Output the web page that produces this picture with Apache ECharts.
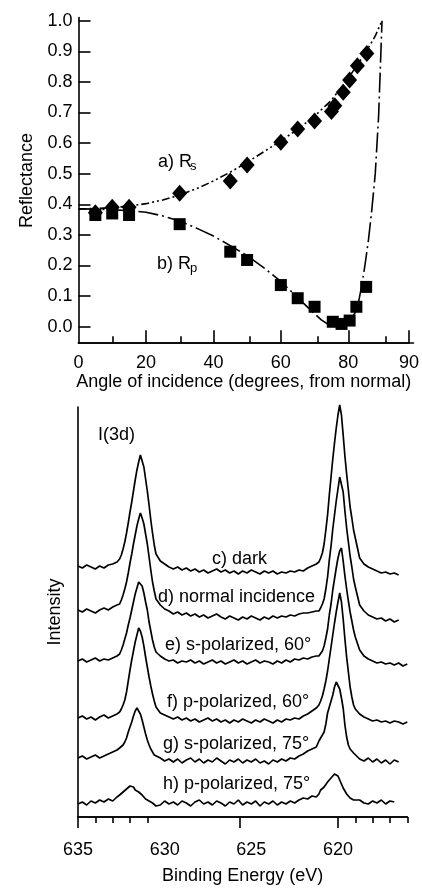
<!DOCTYPE html>
<html><head><meta charset="utf-8">
<script src="https://cdn.jsdelivr.net/npm/echarts@6/dist/echarts.min.js"></script>
<style>html,body{margin:0;padding:0;background:#fff}#c{width:422px;height:888px}</style>
</head><body><div id="c"></div><script>
// ---------- Top panel: reflectance vs angle ----------
const rsAngle = [5, 10, 15, 30, 45, 50, 60, 65, 70, 75, 76, 78.5, 80.4, 82.7, 85.5];
const rsValue = [0.372, 0.39, 0.39, 0.436, 0.476, 0.528, 0.603, 0.646, 0.672, 0.703, 0.722, 0.766, 0.806, 0.853, 0.893];
const rpAngle = [5, 10, 15, 30, 45, 50, 60, 65, 70, 75.4, 78, 80.4, 82.4, 85.3];
const rpValue = [0.365, 0.37, 0.365, 0.335, 0.245, 0.218, 0.136, 0.093, 0.065, 0.016, 0.009, 0.02, 0.065, 0.13];
const rsCurveAngle = [0, 5, 10, 15, 20, 25, 30, 35, 40, 45, 50, 55, 60, 65, 70, 75, 80, 85, 88, 90];
const rsCurveValue = [0.385, 0.386, 0.389, 0.394, 0.402, 0.414, 0.43, 0.451, 0.476, 0.505, 0.537, 0.572, 0.607, 0.645, 0.688, 0.74, 0.812, 0.893, 0.95, 1.0];
const rpCurveAngle = [0, 5, 10, 15, 20, 25, 30, 35, 40, 45, 50, 55, 60, 65, 70, 72, 74, 76, 78, 80, 81, 82, 83, 84, 85, 86, 87, 88, 89, 90];
const rpCurveValue = [0.385, 0.384, 0.382, 0.379, 0.374, 0.362, 0.345, 0.322, 0.296, 0.265, 0.232, 0.192, 0.148, 0.095, 0.042, 0.022, 0.008, 0.001, 0.002, 0.014, 0.027, 0.045, 0.078, 0.135, 0.205, 0.285, 0.385, 0.5, 0.69, 1.0];
const angleMajorTicks = [20, 40, 60, 80, 98];
const angleMinorTicks = [10, 30, 50, 70, 90];
const angleLabelValues = [0, 20, 40, 60, 80, 98];
const angleLabelTexts = ['0', '20', '40', '60', '80', '90'];
const reflTicks = [0, 0.1, 0.2, 0.3, 0.4, 0.5, 0.6, 0.7, 0.8, 0.9, 1.0];

// ---------- Bottom panel: I(3d) spectra ----------
const energy = [635,634.75,634.5,634.25,634,633.75,633.5,633.25,633,632.75,
 632.6,632.5,632.4,632.3,632.2,632.1,632.0,631.9,631.8,631.7,631.6,631.5,631.4,631.3,631.2,631.1,631.0,630.9,630.8,630.7,630.6,630.5,
 630.25,630,629.75,629.5,629.25,629,628.75,628.5,628.25,628,627.75,627.5,627.25,627,626.75,626.5,626.25,626,625.75,625.5,625.25,625,624.75,624.5,624.25,624,623.75,623.5,623.25,623,622.75,622.5,622.25,622,621.75,621.5,621.25,
 621.1,621.0,620.9,620.8,620.7,620.6,620.5,620.4,620.3,620.2,620.1,620.0,619.9,619.8,619.7,619.6,619.5,619.4,619.3,619.2,619.1,619.0,
 618.75,618.5,618.25,618,617.75,617.5,617.25,617,616.75,616.5,616.25,616];
const specDark = [251,249,252,250,248,251,249,252,253,255,
 258,262,268,275,284,294,305,315,326,337,347,355,362,356,350,338,326,312,297,284,272,263,
 256,253,250,248,250,247,249,246,248,245,247,244,246,248,245,247,244,246,243,246,244,247,245,243,246,244,246,243,245,244,246,245,247,246,249,251,253,
 255,259,264,273,287,302,322,340,358,374,389,402,412,402,382,361,343,327,310,299,287,279,
 259,253,250,248,246,244,245,243,244,242,null,null];
const specNormal = [207,205,208,206,204,207,209,207,210,212,
 213,217,222,228,235,244,254,263,273,282,291,298,304,299,293,283,273,260,247,235,226,218,
 212,208,206,203,205,202,204,201,203,200,202,199,201,203,200,198,201,199,197,200,198,201,199,197,200,198,201,199,201,200,202,201,203,204,204,205,206,
 206,209,213,218,228,240,257,271,288,302,316,328,340,341,325,306,289,275,261,250,238,230,
 212,206,202,200,198,199,196,198,195,197,null,null];
const specS60 = [156,158,155,157,159,156,158,157,159,161,
 163,167,172,178,184,192,199,207,215,223,229,235,236,231,224,215,207,195,186,177,170,165,
 161,158,156,157,154,156,155,157,154,156,153,155,157,154,156,153,155,157,154,156,153,155,157,154,156,155,153,156,154,157,155,158,157,159,158,160,161,
 161,163,166,171,179,188,202,213,227,238,249,259,266,269,256,241,228,216,205,196,187,180,
 167,161,158,156,154,155,153,154,152,154,151,153];
const specP60 = [99,101,98,100,97,100,102,99,101,103,
 105,108,112,117,125,136,147,157,166,175,182,189,186,180,171,160,150,140,131,123,116,110,
 104,102,100,98,100,97,99,96,98,95,97,99,96,98,95,97,94,97,95,98,96,94,97,95,98,96,94,97,95,98,97,99,98,101,103,106,109,
 112,116,121,128,136,146,158,170,182,194,205,215,224,215,198,178,160,145,130,120,112,108,
 103,100,98,96,97,95,96,94,96,95,93,95];
const specS75 = [59,61,58,60,62,59,61,63,65,67,
 69,71,72,75,79,85,90,95,101,106,109,110,103,97,90,83,77,72,68,65,62,60,
 59,56,58,55,58,54,57,59,55,58,54,57,55,59,56,53,57,55,58,54,57,55,58,54,56,53,57,55,58,56,59,58,61,63,66,68,70,
 76,79,81,85,93,104,110,116,122,130,135,137,128,119,109,92,80,72,68,66,64,62,
 58,56,59,55,58,54,57,53,57,55,null,null];
const specP75 = [13,15,12,16,14,17,15,18,16,20,
 22,21,25,24,28,27,31,29,30,27,28,25,26,22,21,18,19,16,17,14,13,11,
 12,16,13,15,12,16,14,11,15,17,13,15,12,16,14,11,15,13,17,12,15,13,16,11,15,13,16,12,15,13,16,14,17,19,18,21,20,
 23,27,25,30,32,35,36,39,41,43,44,41,37,33,29,26,23,21,19,18,17,15,
 17,14,13,16,14,17,13,16,15,null,null,null];
const spectra = [specDark, specNormal, specS60, specP60, specS75, specP75];
const spectraLabels = ['c) dark', 'd) normal incidence', 'e) s-polarized, 60°', 'f) p-polarized, 60°', 'g) s-polarized, 75°', 'h) p-polarized, 75°'];
const energyMajorTicks = [635, 625.65, 620];
const energyMinorTicks = [634, 633, 632, 631, 619, 618, 617, 616];
const energyLabelValues = [635, 630, 625, 620];

// ---------- build ----------
const FONT = "'Liberation Sans', Arial, sans-serif";
const zip = (xs, ys) => xs.map((x, i) => [x, ys[i]]);
const K = '#000';
const txt = { color: K, fontSize: 18, fontFamily: FONT };

const gridTop = { left: 78.5, top: 17.6, width: 335, height: 325.6 };
const gridBot = { left: 78, top: 407, width: 329.3, height: 410 };

const chart = echarts.init(document.getElementById('c'), null, { renderer: 'canvas' });
const option = {
  animation: false,
  backgroundColor: '#fff',
  textStyle: { fontFamily: FONT },
  grid: [
    Object.assign({}, gridTop), Object.assign({}, gridTop),
    Object.assign({}, gridBot), Object.assign({}, gridBot)
  ],
  xAxis: [
    { gridIndex: 0, type: 'value', min: 0, max: 98,
      axisLine: { onZero: false, lineStyle: { color: K, width: 1.6 } },
      axisTick: { show: true, inside: true, length: 13, customValues: angleMajorTicks, lineStyle: { color: K, width: 1.6 } },
      axisLabel: Object.assign({ margin: 11, customValues: angleLabelValues,
        formatter: v => angleLabelTexts[angleLabelValues.indexOf(v)] }, txt),
      splitLine: { show: false },
      name: 'Angle of incidence (degrees, from normal)', nameLocation: 'middle', nameGap: 28,
      nameTextStyle: Object.assign({}, txt) },
    { gridIndex: 1, type: 'value', min: 0, max: 98,
      axisLine: { show: true, onZero: false, lineStyle: { color: K, width: 1.6 } },
      axisTick: { show: true, inside: true, length: 7, customValues: angleMinorTicks, lineStyle: { color: K, width: 1.6 } },
      axisLabel: { show: false }, splitLine: { show: false } },
    { gridIndex: 2, type: 'value', min: 616, max: 635, inverse: true,
      axisLine: { onZero: false, lineStyle: { color: K, width: 1.6 } },
      axisTick: { show: true, inside: false, length: 11, customValues: energyMajorTicks, lineStyle: { color: K, width: 1.6 } },
      axisLabel: Object.assign({ margin: 24, customValues: energyLabelValues, formatter: v => String(v) }, txt),
      splitLine: { show: false },
      name: 'Binding Energy (eV)', nameLocation: 'middle', nameGap: 50,
      nameTextStyle: Object.assign({}, txt) },
    { gridIndex: 3, type: 'value', min: 616, max: 635, inverse: true,
      axisLine: { show: true, onZero: false, lineStyle: { color: K, width: 1.6 } },
      axisTick: { show: true, inside: false, length: 6, customValues: energyMinorTicks, lineStyle: { color: K, width: 1.6 } },
      axisLabel: { show: false }, splitLine: { show: false } }
  ],
  yAxis: [
    { gridIndex: 0, type: 'value', min: -0.054, max: 1.01,
      axisLine: { show: true, onZero: false, lineStyle: { color: K, width: 1.6 } },
      axisTick: { show: true, inside: true, length: 12, customValues: reflTicks, lineStyle: { color: K, width: 1.6 } },
      axisLabel: Object.assign({ margin: 6, customValues: reflTicks, formatter: v => v.toFixed(1) }, txt),
      splitLine: { show: false },
      name: 'Reflectance', nameLocation: 'middle', nameGap: 42, nameRotate: 90,
      nameTextStyle: Object.assign({}, txt) },
    { gridIndex: 1, type: 'value', min: -0.054, max: 1.01, show: false },
    { gridIndex: 2, type: 'value', min: 0, max: 410,
      axisLine: { show: true, onZero: false, lineStyle: { color: K, width: 1.6 } },
      axisTick: { show: false }, axisLabel: { show: false }, splitLine: { show: false },
      name: 'Intensity', nameLocation: 'middle', nameGap: 14, nameRotate: 90,
      nameTextStyle: Object.assign({}, txt) },
    { gridIndex: 3, type: 'value', min: 0, max: 410, show: false }
  ],
  series: [
    { type: 'line', xAxisIndex: 0, yAxisIndex: 0, data: zip(rsCurveAngle, rsCurveValue), showSymbol: false, symbol: 'none',
      lineStyle: { color: K, width: 1.6, type: [8, 3, 2, 3, 2, 3] }, z: 2 },
    { type: 'line', xAxisIndex: 0, yAxisIndex: 0, data: zip(rpCurveAngle, rpCurveValue), showSymbol: false, symbol: 'none',
      lineStyle: { color: K, width: 1.6, type: [20, 4, 2, 4] }, z: 2 },
    { type: 'scatter', xAxisIndex: 0, yAxisIndex: 0, data: zip(rsAngle, rsValue), symbol: 'diamond', symbolSize: [15, 17],
      itemStyle: { color: K, opacity: 1 }, z: 3 },
    { type: 'scatter', xAxisIndex: 0, yAxisIndex: 0, data: zip(rpAngle, rpValue), symbol: 'rect', symbolSize: 12,
      itemStyle: { color: K, opacity: 1 }, z: 4 }
  ].concat(spectra.map((s, i) => ({
    type: 'line', name: spectraLabels[i], xAxisIndex: 2, yAxisIndex: 2, data: zip(energy, s),
    showSymbol: false, symbol: 'none', clip: false, connectNulls: false,
    lineStyle: { color: K, width: 1.7 }, z: 2
  }))),
  graphic: [
    { type: 'text', left: 158, top: 153, style: { text: 'a) R', fill: K, font: '18px ' + FONT } },
    { type: 'text', left: 190, top: 160, style: { text: 's', fill: K, font: '13px ' + FONT } },
    { type: 'text', left: 157, top: 255, style: { text: 'b) R', fill: K, font: '18px ' + FONT } },
    { type: 'text', left: 190, top: 262, style: { text: 'p', fill: K, font: '13px ' + FONT } },
    { type: 'text', left: 98, top: 426, style: { text: 'I(3d)', fill: K, font: '18px ' + FONT } },
    { type: 'text', left: 212, top: 550, style: { text: spectraLabels[0], fill: K, font: '18px ' + FONT } },
    { type: 'text', left: 158, top: 588, style: { text: spectraLabels[1], fill: K, font: '18px ' + FONT } },
    { type: 'text', left: 165, top: 636, style: { text: spectraLabels[2], fill: K, font: '18px ' + FONT } },
    { type: 'text', left: 167, top: 693, style: { text: spectraLabels[3], fill: K, font: '18px ' + FONT } },
    { type: 'text', left: 163, top: 735, style: { text: spectraLabels[4], fill: K, font: '18px ' + FONT } },
    { type: 'text', left: 163, top: 775, style: { text: spectraLabels[5], fill: K, font: '18px ' + FONT } }
  ]
};
chart.setOption(option);
</script></body></html>
